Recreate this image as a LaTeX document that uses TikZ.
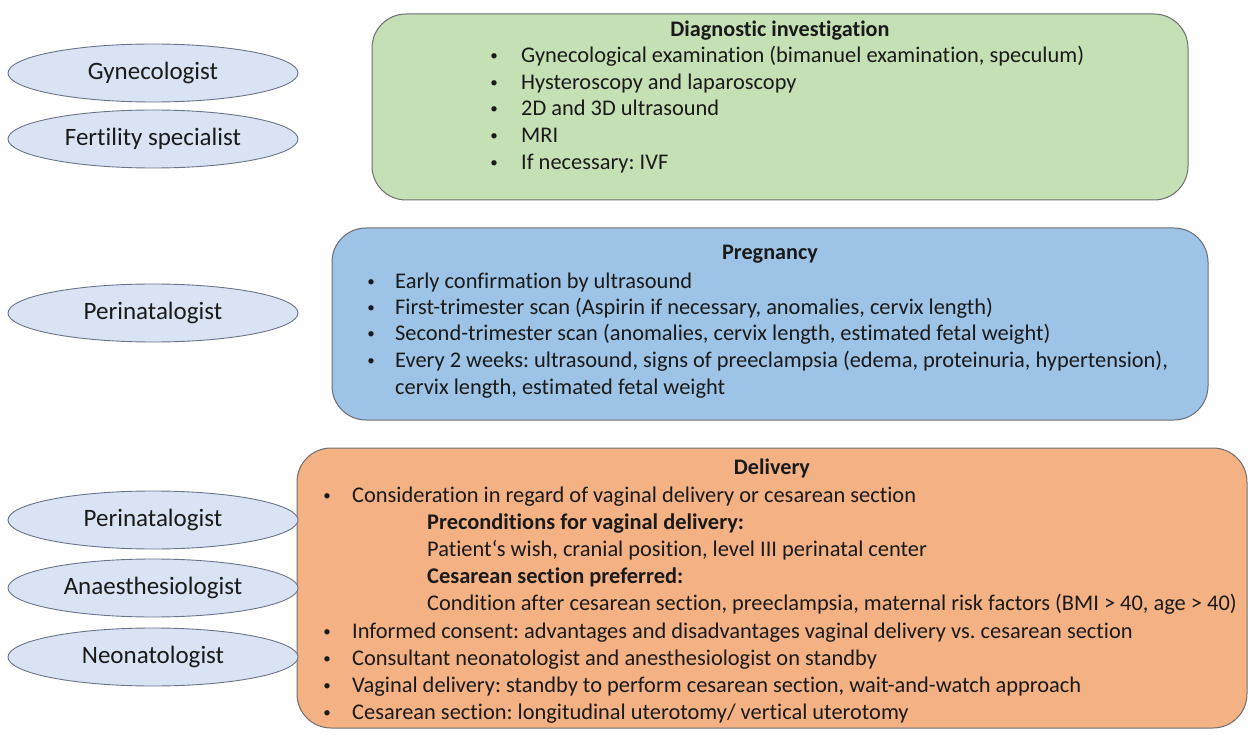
\documentclass[tikz,border=0pt]{standalone}
\usepackage{fontspec}
\setmainfont[Ligatures=NoCommon]{Carlito}
\frenchspacing
\definecolor{ellfill}{HTML}{DAE3F3}
\definecolor{elldraw}{HTML}{6A7488}
\definecolor{greenfill}{HTML}{C5E0B4}
\definecolor{bluefill}{HTML}{9DC3E6}
\definecolor{orangefill}{HTML}{F4B183}
\definecolor{boxdraw}{HTML}{6E6E6E}
\definecolor{txtcol}{HTML}{1A1A1A}
\usetikzlibrary{shapes.geometric}
\begin{document}
\begin{tikzpicture}[x=1pt,y=-1pt,
  role/.style={ellipse,draw=elldraw,fill=ellfill,line width=0.9pt,minimum width=290pt,minimum height=58pt,inner sep=0pt,text=txtcol,font=\fontsize{25}{29}\selectfont},
  panel/.style={draw=boxdraw,line width=1pt,rounded corners=34pt,inner sep=0pt},
  txt/.style={anchor=west,inner sep=0pt,text height=16pt,text depth=5.5pt,text=txtcol,font=\fontsize{22.4}{26}\selectfont},
  btxt/.style={txt,font=\bfseries\fontsize{22.4}{26}\selectfont},
  ttl/.style={inner sep=0pt,text height=16pt,text depth=5.5pt,text=txtcol,font=\bfseries\fontsize{22.2}{26}\selectfont},
  bul/.style={inner sep=0pt,text=txtcol,font=\fontsize{15}{18}\selectfont}]
\useasboundingbox (0,0) rectangle (1248,738);
% panels
\node[panel,fill=greenfill,minimum width=816pt,minimum height=186pt] (diag) at (780,107) {};
\node[panel,fill=bluefill,minimum width=876pt,minimum height=192pt] (preg) at (770,324) {};
\node[panel,fill=orangefill,minimum width=950pt,minimum height=280pt] (deli) at (772,588) {};
% roles
\node[role] (gyn) at (153,73) {Gynecologist};
\node[role] (fert) at (153,139) {Fertility specialist};
\node[role] (peri1) at (153,313) {Perinatalogist};
\node[role] (peri2) at (153,520) {Perinatalogist};
\node[role] (anae) at (153,588) {Anaesthesiologist};
\node[role] (neo) at (153,657) {Neonatologist};
% diagnostic
\node[ttl] (dt) at (780,31) {Diagnostic investigation};
\node[bul] (db1) at (494,57) {•};
\node[txt] (d1) at (521,57) {Gynecological examination (bimanuel examination, speculum)};
\node[bul] (db2) at (494,84) {•};
\node[txt] (d2) at (521,84) {Hysteroscopy and laparoscopy};
\node[bul] (db3) at (494,110) {•};
\node[txt] (d3) at (521,110) {2D and 3D ultrasound};
\node[bul] (db4) at (494,137) {•};
\node[txt] (d4) at (521,137) {MRI};
\node[bul] (db5) at (494,164) {•};
\node[txt] (d5) at (521,164) {If necessary: IVF};
% pregnancy
\node[ttl] (pt) at (770,254) {Pregnancy};
\node[bul] (pb1) at (371,283) {•};
\node[txt] (p1) at (395,283) {Early confirmation by ultrasound};
\node[bul] (pb2) at (371,309) {•};
\node[txt] (p2) at (395,309) {First-trimester scan (Aspirin if necessary, anomalies, cervix length)};
\node[bul] (pb3) at (371,335) {•};
\node[txt] (p3) at (395,335) {Second-trimester scan (anomalies, cervix length, estimated fetal weight)};
\node[bul] (pb4) at (371,362) {•};
\node[txt] (p4) at (395,362) {Every 2 weeks: ultrasound, signs of preeclampsia (edema, proteinuria, hypertension),};
\node[txt] (p5) at (395,389) {cervix length, estimated fetal weight};
% delivery
\node[ttl] (lt) at (772,469) {Delivery};
\node[bul] (lb1) at (327,497) {•};
\node[txt] (l1) at (352,497) {Consideration in regard of vaginal delivery or cesarean section};
\node[btxt] (l2) at (427,524) {Preconditions for vaginal delivery:};
\node[txt] (l3) at (427,551) {Patient‘s wish, cranial position, level III perinatal center};
\node[btxt] (l4) at (427,578) {Cesarean section preferred:};
\node[txt] (l5) at (427,605) {Condition after cesarean section, preeclampsia, maternal risk factors (BMI > 40, age > 40)};
\node[bul] (lb6) at (327,633) {•};
\node[txt] (l6) at (352,633) {Informed consent: advantages and disadvantages vaginal delivery vs. cesarean section};
\node[bul] (lb7) at (327,660) {•};
\node[txt] (l7) at (352,660) {Consultant neonatologist and anesthesiologist on standby};
\node[bul] (lb8) at (327,687) {•};
\node[txt] (l8) at (352,687) {Vaginal delivery: standby to perform cesarean section, wait-and-watch approach};
\node[bul] (lb9) at (327,714) {•};
\node[txt] (l9) at (352,714) {Cesarean section: longitudinal uterotomy/ vertical uterotomy};
\end{tikzpicture}
\end{document}
